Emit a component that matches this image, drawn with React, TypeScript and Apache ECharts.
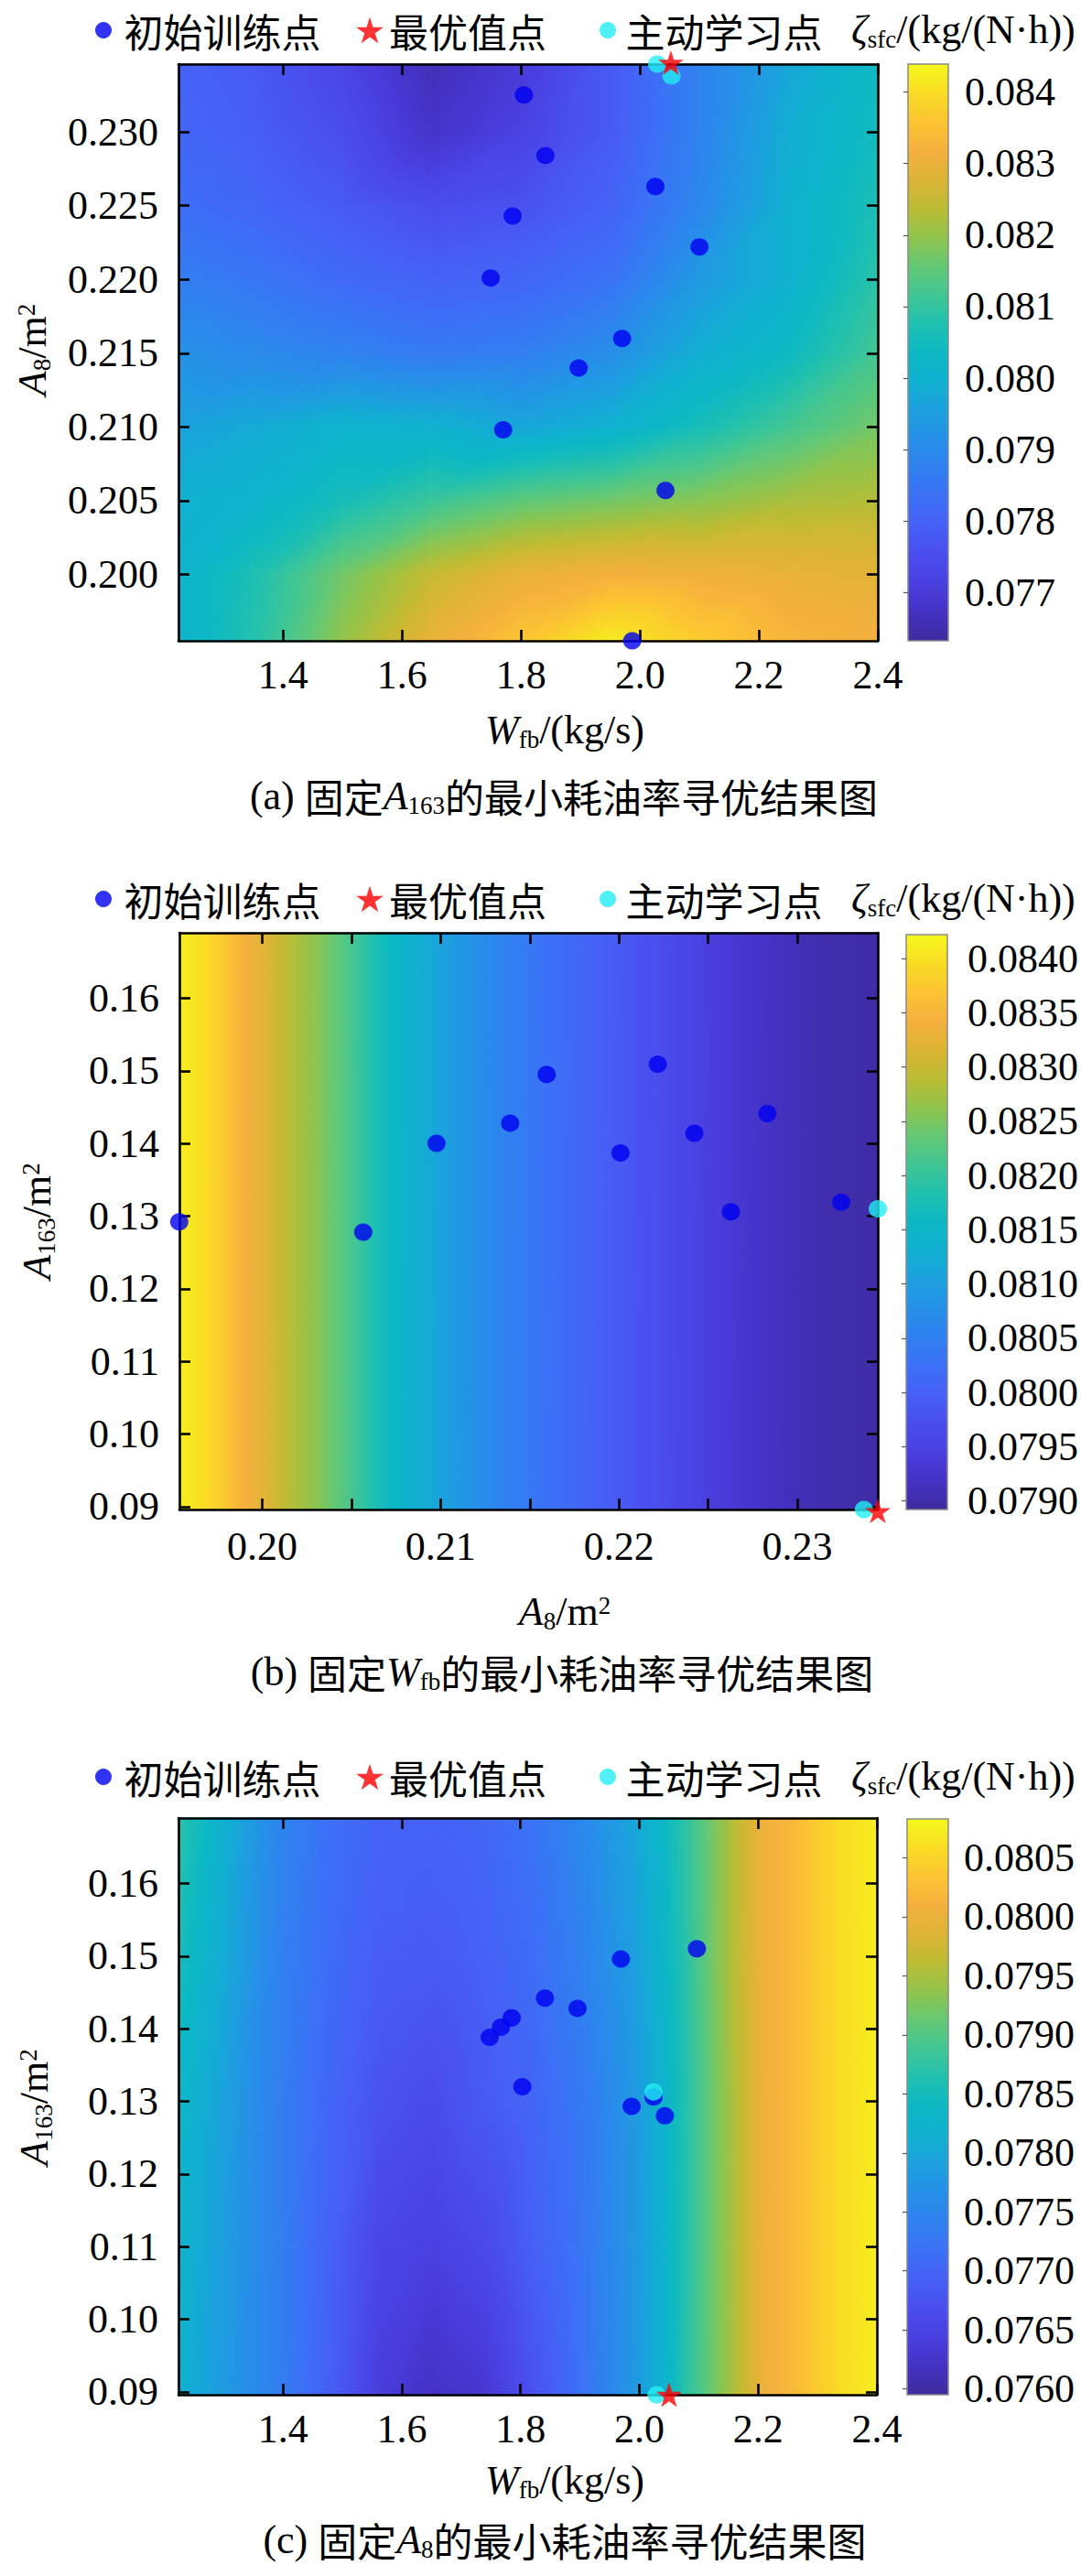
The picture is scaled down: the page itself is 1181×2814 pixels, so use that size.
import React, { useEffect, useRef } from "react";
import * as echarts from "echarts";

// ---------------- data ----------------
const LEGEND_NAMES = ["初始训练点", "最优值点", "主动学习点"];

// (a) fixed A163 : x = Wfb, y = A8
const aXRange = [1.224, 2.4];
const aYRange = [0.1955, 0.2346];
const aZRange = [0.07633, 0.08439];
const aXTicks = [1.4, 1.6, 1.8, 2.0, 2.2, 2.4];
const aYTicks = [0.2, 0.205, 0.21, 0.215, 0.22, 0.225, 0.23];
const aZTicks = [0.077, 0.078, 0.079, 0.08, 0.081, 0.082, 0.083, 0.084];
const aFieldX = [1.224, 1.35, 1.5, 1.65, 1.8, 1.95, 2.1, 2.25, 2.4];
const aFieldY = [0.1955, 0.2, 0.205, 0.21, 0.215, 0.22, 0.225, 0.23, 0.2346];
const aFieldZ = [
  [0.0801, 0.0808, 0.082, 0.083, 0.0836, 0.0842, 0.0837, 0.0833, 0.0832],
  [0.0801, 0.0807, 0.0817, 0.0825, 0.083, 0.0832, 0.0831, 0.083, 0.0829],
  [0.08, 0.0801, 0.0806, 0.0811, 0.0815, 0.0817, 0.0819, 0.0822, 0.0823],
  [0.0796, 0.0798, 0.0801, 0.08, 0.0797, 0.08, 0.0806, 0.0812, 0.0817],
  [0.0792, 0.079, 0.0788, 0.0786, 0.0787, 0.0791, 0.0799, 0.0804, 0.0812],
  [0.0787, 0.0785, 0.0782, 0.078, 0.0781, 0.0784, 0.0794, 0.08, 0.0809],
  [0.0783, 0.0781, 0.0778, 0.0775, 0.0776, 0.078, 0.0789, 0.08, 0.0807],
  [0.0781, 0.0779, 0.0775, 0.0768, 0.0772, 0.0778, 0.0788, 0.0799, 0.0805],
  [0.078, 0.0778, 0.0773, 0.0766, 0.077, 0.0778, 0.0788, 0.0797, 0.0804],
];
const aTrainX = [1.805, 1.841, 2.026, 1.786, 2.1, 1.749, 1.97, 1.897, 1.77, 2.043, 1.987];
const aTrainY = [0.2325, 0.2284, 0.2263, 0.2243, 0.2222, 0.2201, 0.216, 0.214, 0.2098, 0.2057, 0.1955];
const aActiveX = [2.029, 2.053];
const aActiveY = [0.2346, 0.2338];
const aBestX = [2.052];
const aBestY = [0.2347];

// (b) fixed Wfb : x = A8, y = A163
const bXRange = [0.19535, 0.23452];
const bYRange = [0.0896, 0.169];
const bZRange = [0.07892, 0.08422];
const bXTicks = [0.2, 0.205, 0.21, 0.215, 0.22, 0.225, 0.23];
const bXLabels = [0.2, 0.21, 0.22, 0.23];
const bYTicks = [0.09, 0.1, 0.11, 0.12, 0.13, 0.14, 0.15, 0.16];
const bZTicks = [0.079, 0.0795, 0.08, 0.0805, 0.081, 0.0815, 0.082, 0.0825, 0.083, 0.0835, 0.084];
const bProfileX = [
  0.19535, 0.19678, 0.19793, 0.19879, 0.19966, 0.20052, 0.20167, 0.20311, 0.20455, 0.20599, 0.20715,
  0.20888, 0.21089, 0.21291, 0.21522, 0.21781, 0.22011, 0.22271, 0.22559, 0.22848, 0.23164, 0.23452,
];
const bProfileZ = [
  0.08412, 0.08396, 0.08374, 0.08348, 0.08332, 0.08311, 0.08284, 0.08258, 0.08226, 0.08189, 0.08157,
  0.08125, 0.08093, 0.08062, 0.08035, 0.08009, 0.07987, 0.07966, 0.0794, 0.07918, 0.07903, 0.07897,
];
const bTrainX = [0.19534, 0.20566, 0.20977, 0.2139, 0.21595, 0.22009, 0.22218, 0.22423, 0.22628, 0.22833, 0.23247];
const bTrainY = [0.1292, 0.1278, 0.14, 0.1428, 0.1495, 0.1387, 0.1509, 0.1414, 0.1306, 0.1441, 0.1319];
const bActiveX = [0.23452, 0.23374];
const bActiveY = [0.131, 0.0896];
const bBestX = [0.23452];
const bBestY = [0.0894];

// (c) fixed A8 : x = Wfb, y = A163
const cXRange = [1.224, 2.4];
const cYRange = [0.0896, 0.169];
const cZRange = [0.07595, 0.08083];
const cXTicks = [1.4, 1.6, 1.8, 2.0, 2.2, 2.4];
const cYTicks = [0.09, 0.1, 0.11, 0.12, 0.13, 0.14, 0.15, 0.16];
const cZTicks = [0.076, 0.0765, 0.077, 0.0775, 0.078, 0.0785, 0.079, 0.0795, 0.08, 0.0805];
const cFieldX = [1.224, 1.303, 1.39, 1.476, 1.562, 1.649, 1.735, 1.822, 1.908, 1.994, 2.038, 2.081, 2.124, 2.167, 2.21, 2.254, 2.297, 2.34, 2.4];
const cFieldY = [0.0896, 0.11, 0.13, 0.15, 0.169];
const cFieldZ = [
  [0.07819, 0.0778, 0.07741, 0.07693, 0.07639, 0.07619, 0.07629, 0.07673, 0.07722, 0.0778, 0.07819, 0.07873, 0.07917, 0.07961, 0.08005, 0.0802, 0.08039, 0.08059, 0.08073],
  [0.07824, 0.07785, 0.07741, 0.07697, 0.07654, 0.07644, 0.07658, 0.07693, 0.07727, 0.0778, 0.07819, 0.07868, 0.07917, 0.07961, 0.08005, 0.0802, 0.08039, 0.08059, 0.08073],
  [0.07834, 0.0779, 0.07741, 0.07702, 0.07673, 0.07663, 0.07683, 0.07702, 0.07732, 0.0778, 0.07819, 0.07868, 0.07917, 0.07961, 0.08005, 0.0802, 0.08039, 0.08059, 0.08073],
  [0.07854, 0.07805, 0.07746, 0.07712, 0.07688, 0.07683, 0.07693, 0.07712, 0.07746, 0.0779, 0.07829, 0.07873, 0.07922, 0.07966, 0.08005, 0.0802, 0.08039, 0.08059, 0.08073],
  [0.07873, 0.07815, 0.07751, 0.07717, 0.07697, 0.07697, 0.07702, 0.07722, 0.07756, 0.078, 0.07834, 0.07878, 0.07922, 0.07966, 0.08005, 0.0802, 0.08039, 0.08059, 0.08073],
];
const cTrainX = [2.097, 1.969, 1.841, 1.896, 1.785, 1.767, 1.748, 1.803, 1.987, 2.043, 2.024];
const cTrainY = [0.151, 0.1496, 0.1442, 0.1428, 0.1415, 0.1402, 0.1388, 0.132, 0.1293, 0.128, 0.1306];
const cActiveX = [2.024, 2.029];
const cActiveY = [0.1313, 0.0896];
const cBestX = [2.05];
const cBestY = [0.0896];

// ---------------- style ----------------
const FONT = "Liberation Serif";
const CJK = "Noto Sans CJK SC";
const CMAP = [
  "#3d2c9e", "#4432c4", "#4a3fe0", "#4a4eee", "#4660f6", "#3c70f6", "#3080f0", "#2690e8", "#1ca0de", "#10b0d0",
  "#0cb8c4", "#20c0b0", "#40c694", "#64c874", "#90c44c", "#bcbc34", "#dcb434", "#f4b03e", "#fcc432", "#f8dc24", "#f5f81c",
];
const STAR = "path://M50 0 L61.23 34.55 L97.55 34.55 L68.17 55.9 L79.39 90.45 L50 69.1 L20.61 90.45 L31.83 55.9 L2.45 34.55 L38.77 34.55 Z";

const RICH: any = {
  n: { fontFamily: FONT, fontSize: 44, lineHeight: 46, color: "#000", verticalAlign: "top" },
  i: { fontFamily: FONT, fontSize: 44, lineHeight: 46, fontStyle: "italic", color: "#000", verticalAlign: "top" },
  c: { fontFamily: CJK, fontSize: 43, lineHeight: 46, color: "#000", verticalAlign: "top" },
  sub: { fontFamily: FONT, fontSize: 27, lineHeight: 27, padding: [24, 0, 0, 0], color: "#000", verticalAlign: "bottom" },
  sup: { fontFamily: FONT, fontSize: 27, lineHeight: 27, padding: [2, 0, 0, 0], color: "#000", verticalAlign: "top" },
};

const zip = (xs: number[], ys: number[]) => xs.map((x, k) => [x, ys[k]]);

const PANELS = [
  {
    xRange: aXRange, yRange: aYRange, zRange: aZRange,
    xTicks: aXTicks, xLabels: aXTicks, yTicks: aYTicks, zTicks: aZTicks, xDec: 1, yDec: 3, zDec: 3,
    fx: aFieldX, fy: aFieldY, fz: aFieldZ,
    train: zip(aTrainX, aTrainY), active: zip(aActiveX, aActiveY), best: zip(aBestX, aBestY),
    xTitle: "{i|W}{sub|fb}{n|/(kg/s)}",
    yTitle: "{i|A}{sub|8}{n|/m}{sup|2}",
    caption: "{n|(a) }{c|固定}{i|A}{sub|163}{c|的最小耗油率寻优结果图}",
  },
  {
    xRange: bXRange, yRange: bYRange, zRange: bZRange,
    xTicks: bXTicks, xLabels: bXLabels, yTicks: bYTicks, zTicks: bZTicks, xDec: 2, yDec: 2, zDec: 4,
    fx: bProfileX, fy: bYRange, fz: [bProfileZ, bProfileZ],
    train: zip(bTrainX, bTrainY), active: zip(bActiveX, bActiveY), best: zip(bBestX, bBestY),
    xTitle: "{i|A}{sub|8}{n|/m}{sup|2}",
    yTitle: "{i|A}{sub|163}{n|/m}{sup|2}",
    caption: "{n|(b) }{c|固定}{i|W}{sub|fb}{c|的最小耗油率寻优结果图}",
  },
  {
    xRange: cXRange, yRange: cYRange, zRange: cZRange,
    xTicks: cXTicks, xLabels: cXTicks, yTicks: cYTicks, zTicks: cZTicks, xDec: 1, yDec: 2, zDec: 4,
    fx: cFieldX, fy: cFieldY, fz: cFieldZ,
    train: zip(cTrainX, cTrainY), active: zip(cActiveX, cActiveY), best: zip(cBestX, cBestY),
    xTitle: "{i|W}{sub|fb}{n|/(kg/s)}",
    yTitle: "{i|A}{sub|163}{n|/m}{sup|2}",
    caption: "{n|(c) }{c|固定}{i|A}{sub|8}{c|的最小耗油率寻优结果图}",
  },
];

const LAYOUT = [
  { main: { left: 195, top: 70, width: 764, height: 630 }, cbar: { left: 992, top: 70, width: 44, height: 630 },
    xMargin: 15, cbMargin: 18, legendCY: 33, xTitle: [617, 798], yTitle: [36, 382], caption: [616, 870] },
  { main: { left: 196, top: 1019, width: 763, height: 630 }, cbar: { left: 990, top: 1021, width: 45, height: 628 },
    xMargin: 18, cbMargin: 22, legendCY: 982, xTitle: [617, 1761], yTitle: [41, 1334], caption: [614, 1827] },
  { main: { left: 195, top: 1986, width: 763, height: 630 }, cbar: { left: 991, top: 1987, width: 45, height: 629 },
    xMargin: 15, cbMargin: 17, legendCY: 1941, xTitle: [617, 2710], yTitle: [38, 2302], caption: [617, 2775] },
];

// ---------------- helpers ----------------
const CMAP_RGB = CMAP.map((h) => [parseInt(h.slice(1, 3), 16), parseInt(h.slice(3, 5), 16), parseInt(h.slice(5, 7), 16)]);
function cmap(t: number) {
  const tt = Math.min(1, Math.max(0, t));
  const pos = tt * (CMAP_RGB.length - 1);
  const i = Math.min(Math.floor(pos), CMAP_RGB.length - 2);
  const f = pos - i;
  const a = CMAP_RGB[i];
  const b = CMAP_RGB[i + 1];
  return `rgb(${Math.round(a[0] + (b[0] - a[0]) * f)},${Math.round(a[1] + (b[1] - a[1]) * f)},${Math.round(a[2] + (b[2] - a[2]) * f)})`;
}

function triFill(p: number[][], zr: number[]) {
  const toT = (v: number) => (v - zr[0]) / (zr[1] - zr[0]);
  const vs = p.map((q) => q[2]);
  const vmin = Math.min(...vs);
  const vmax = Math.max(...vs);
  const dx1 = p[1][0] - p[0][0], dy1 = p[1][1] - p[0][1], dv1 = p[1][2] - p[0][2];
  const dx2 = p[2][0] - p[0][0], dy2 = p[2][1] - p[0][1], dv2 = p[2][2] - p[0][2];
  const det = dx1 * dy2 - dx2 * dy1;
  if (Math.abs(det) < 1e-9 || vmax - vmin < 1e-12) return () => cmap(toT(vs[0]));
  const a = (dv1 * dy2 - dv2 * dy1) / det;
  const b = (dx1 * dv2 - dx2 * dv1) / det;
  const g2 = a * a + b * b;
  const s = p[vs.indexOf(vmin)];
  const ex = s[0] + (a * (vmax - vmin)) / g2;
  const ey = s[1] + (b * (vmax - vmin)) / g2;
  const n = Math.max(2, Math.ceil((toT(vmax) - toT(vmin)) / 0.02));
  return () => {
    const stops = [];
    for (let q = 0; q <= n; q++) stops.push({ offset: q / n, color: cmap(toT(vmin + ((vmax - vmin) * q) / n)) });
    return new echarts.graphic.LinearGradient(s[0], s[1], ex, ey, stops, true);
  };
}

function buildOption() {
  const grid: any[] = [];
  const xAxis: any[] = [];
  const yAxis: any[] = [];
  const series: any[] = [];
  const legend: any[] = [];
  const graphic: any[] = [];

  PANELS.forEach((P, k) => {
    const L = LAYOUT[k];
    const gi = 2 * k;
    const ai = 3 * k;
    grid.push({ ...L.main, show: false, containLabel: false, outerBoundsMode: "none" });
    grid.push({ ...L.cbar, show: false, containLabel: false, outerBoundsMode: "none" });

    const line = { show: true, onZero: false, lineStyle: { color: "#000", width: 2.6 } };
    const tick = (vals: number[]) => ({ show: true, inside: true, length: 12, customValues: vals, lineStyle: { color: "#000", width: 2.6 } });
    const label = (vals: number[], dec: number, margin: number) => ({
      show: true, customValues: vals, formatter: (v: number) => Number(v).toFixed(dec),
      fontFamily: FONT, fontSize: 44, color: "#000", margin,
    });

    xAxis.push({ type: "value", gridIndex: gi, position: "bottom", min: P.xRange[0], max: P.xRange[1], z: 3,
      axisLine: line, axisTick: tick(P.xTicks), axisLabel: label(P.xLabels, P.xDec, L.xMargin), splitLine: { show: false } });
    xAxis.push({ type: "value", gridIndex: gi, position: "top", min: P.xRange[0], max: P.xRange[1], z: 3,
      axisLine: line, axisTick: tick(P.xTicks), axisLabel: { show: false }, splitLine: { show: false } });
    xAxis.push({ type: "value", gridIndex: gi + 1, min: 0, max: 1, show: false });

    yAxis.push({ type: "value", gridIndex: gi, position: "left", min: P.yRange[0], max: P.yRange[1], z: 3,
      axisLine: line, axisTick: tick(P.yTicks), axisLabel: label(P.yTicks, P.yDec, 22), splitLine: { show: false } });
    yAxis.push({ type: "value", gridIndex: gi, position: "right", min: P.yRange[0], max: P.yRange[1], z: 3,
      axisLine: line, axisTick: tick(P.yTicks), axisLabel: { show: false }, splitLine: { show: false } });
    yAxis.push({ type: "value", gridIndex: gi + 1, position: "right", min: P.zRange[0], max: P.zRange[1], z: 3,
      axisLine: { show: false },
      axisTick: { show: true, inside: true, length: 5, customValues: P.zTicks, lineStyle: { color: "#555", width: 1.2 } },
      axisLabel: label(P.zTicks, P.zDec, L.cbMargin), splitLine: { show: false } });

    // surface
    const cells: number[][] = [];
    for (let j = 0; j < P.fy.length - 1; j++) for (let i = 0; i < P.fx.length - 1; i++) cells.push([i, j]);
    series.push({
      type: "custom", xAxisIndex: ai, yAxisIndex: ai, z: 1, silent: true, data: cells,
      renderItem: (params: any, api: any) => {
        const i = api.value(0);
        const j = api.value(1);
        const corner = (ci: number, cj: number) => {
          const c = api.coord([P.fx[ci], P.fy[cj]]);
          return [c[0], c[1], P.fz[cj][ci]];
        };
        const p00 = corner(i, j), p10 = corner(i + 1, j), p11 = corner(i + 1, j + 1), p01 = corner(i, j + 1);
        const tri = (pp: number[][]) => {
          const f = triFill(pp, P.zRange);
          return { type: "polygon", shape: { points: pp.map((q) => [q[0], q[1]]) }, style: { fill: f(), stroke: f(), lineWidth: 1 } };
        };
        return { type: "group", children: [tri([p00, p10, p11]), tri([p00, p11, p01])] };
      },
    });
    // colorbar
    series.push({
      type: "custom", xAxisIndex: ai + 2, yAxisIndex: ai + 2, z: 1, silent: true, data: [[0, P.zRange[0]]],
      renderItem: (params: any, api: any) => {
        const p1 = api.coord([0, P.zRange[1]]);
        const p2 = api.coord([1, P.zRange[0]]);
        const stops = CMAP.map((c, q) => ({ offset: q / (CMAP.length - 1), color: c }));
        return { type: "rect", shape: { x: p1[0], y: p1[1], width: p2[0] - p1[0], height: p2[1] - p1[1] },
          style: { fill: new echarts.graphic.LinearGradient(0, 1, 0, 0, stops), stroke: "#8a8a8a", lineWidth: 1.5 } };
      },
    });
    series.push({ type: "scatter", name: LEGEND_NAMES[0], xAxisIndex: ai, yAxisIndex: ai, data: P.train, symbol: "circle",
      symbolSize: [20, 19], itemStyle: { color: "#0000f0" }, clip: false, z: 5, silent: true });
    series.push({ type: "scatter", name: LEGEND_NAMES[2], xAxisIndex: ai, yAxisIndex: ai, data: P.active, symbol: "circle",
      symbolSize: [20, 19], itemStyle: { color: "#22eef2" }, clip: false, z: 6, silent: true });
    series.push({ type: "scatter", name: LEGEND_NAMES[1], xAxisIndex: ai, yAxisIndex: ai, data: P.best, symbol: STAR,
      symbolSize: [28, 27], itemStyle: { color: "#ff0000" }, clip: false, z: 7, silent: true });

    const legItems = [
      { name: LEGEND_NAMES[0], left: 104, w: 19, h: 18, pad: 8 },
      { name: LEGEND_NAMES[1], left: 389, w: 30, h: 29, pad: 1 },
      { name: LEGEND_NAMES[2], left: 655, w: 19, h: 18, pad: 5 },
    ];
    legItems.forEach((it) => {
      legend.push({ data: [it.name], left: it.left, top: L.legendCY - 22, padding: 0, itemGap: 0, itemWidth: it.w, itemHeight: it.h,
        selectedMode: false, textStyle: { fontFamily: CJK, fontSize: 43, lineHeight: 44, color: "#000", padding: [0, 0, 0, it.pad] } });
    });

    const txt = (text: string, x: number, y: number, align: string, rot = 0) => ({
      type: "text", x, y, rotation: rot, silent: true, z: 20,
      style: { text, rich: RICH, fill: "#000", align, textAlign: align, verticalAlign: "middle", textVerticalAlign: "middle", fontFamily: FONT, fontSize: 44 },
    });
    graphic.push(txt("{i|ζ}{sub|sfc}{n|/(kg/(N·h))}", 930, L.legendCY, "left"));
    graphic.push(txt(P.xTitle, L.xTitle[0], L.xTitle[1], "center"));
    graphic.push(txt(P.yTitle, L.yTitle[0], L.yTitle[1], "center", Math.PI / 2));
    graphic.push(txt(P.caption, L.caption[0], L.caption[1], "center"));
  });

  return { animation: false, backgroundColor: "#ffffff", textStyle: { fontFamily: FONT }, grid, xAxis, yAxis, series, legend, graphic };
}

export default function App() {
  const ref = useRef<HTMLDivElement>(null);
  useEffect(() => {
    document.body.style.margin = "0";
    const chart = echarts.init(ref.current as HTMLDivElement, null, { renderer: "svg", width: 1181, height: 2814 });
    chart.setOption(buildOption() as any);
    return () => chart.dispose();
  }, []);
  return <div ref={ref} style={{ width: 1181, height: 2814 }} />;
}
